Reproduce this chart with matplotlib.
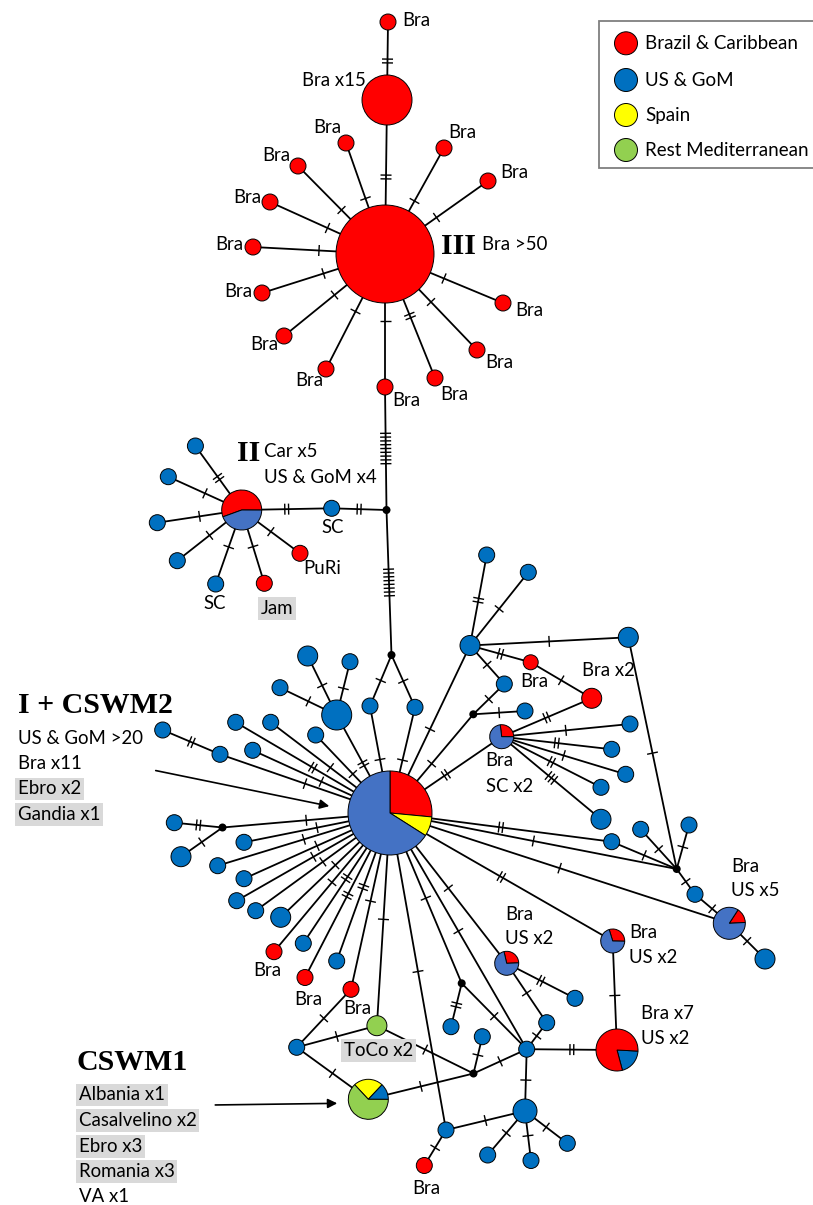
import matplotlib
matplotlib.use("Agg")
import matplotlib.pyplot as plt
from matplotlib.patches import Circle, Wedge, Rectangle
import numpy as np

COL = {"red": "#FF0000", "blue": "#0070C0", "pblue": "#4472C4",
       "yellow": "#FFFF00", "green": "#92D050", "black": "#000000"}

# ---------------- nodes: x, y (pixel space), radius, colour kind ----------------
node_x = [388, 387, 385, 346, 298, 270, 253, 262, 284, 326, 385, 435, 477, 503, 488, 444,
          386.5, 241.7, 331.7, 195.4, 168.3, 157.3, 177.3, 215.7, 264.3, 300,
          391.5, 370, 415, 390, 336.7, 307.7, 350, 280, 315.7, 235.7, 270.7, 252.7, 220, 162.7,
          222.5, 174.3, 181, 244, 217.7, 244, 236.7, 255.7, 280.7, 274, 303.3, 336.7, 305, 351,
          376.9, 296.7, 368.3, 473.5, 482.3, 461.7, 451, 506.7, 575, 546.7, 526.7, 525, 446,
          424.3, 487.7, 531, 567.3, 617, 612.7, 729.3, 765, 695, 676.7, 611.7, 640.7, 689,
          470, 486.7, 528.3, 628.3, 530.7, 591.7, 504.3, 473.3, 525, 501.7, 630, 611.7, 625.7,
          601, 601]
node_y = [22, 100, 254, 143, 166, 202, 247, 293, 336, 369, 387, 378, 350, 303, 181, 148,
          510, 510, 508.3, 446, 476.7, 522.7, 560.7, 584, 583.3, 553.3,
          655, 706, 707.3, 813, 715, 656, 661.7, 687.7, 735, 722.3, 722.3, 750.3, 754.3, 730,
          827.5, 822.7, 856.7, 842.3, 865.7, 878.7, 900.7, 910.7, 917.3, 951.7, 943.3, 961, 977.5, 989.3,
          1025.7, 1047.3, 1099.3, 1073.5, 1036.7, 983.3, 1026.7, 963.3, 998.3, 1022.7, 1049.2, 1111, 1130,
          1165.5, 1155, 1160.5, 1143.3, 1050, 941, 923.3, 959, 894.3, 869, 841.7, 829.3, 825,
          645.5, 555, 572.3, 637.3, 662.3, 698.3, 684, 714.3, 711, 736.7, 724, 749.3, 774.3,
          787.3, 819.3]
node_r = [8, 25, 49] + [8] * 13 + \
         [4, 20, 8, 8, 8, 8, 8, 8, 8, 8] + \
         [4, 8, 8, 42, 15, 10, 8, 8, 8, 8, 8, 8, 8, 8] + \
         [4, 8, 10, 8, 8, 8, 8, 8, 10, 8, 8, 8, 8, 8] + \
         [10, 8, 20, 4, 8, 4, 8, 12, 8, 8, 8, 12, 8, 8, 8, 8, 8, 21, 12, 16, 10, 8, 4, 8, 8, 8] + \
         [10, 8, 8, 10, 7.5, 10, 8, 4, 8, 12, 8, 8, 8, 8, 10]
node_kind = ["red"] * 16 + \
            ["black", "pie", "blue", "blue", "blue", "blue", "blue", "blue", "red", "red"] + \
            ["black", "blue", "blue", "pie", "blue", "blue", "blue", "blue", "blue", "blue", "blue", "blue", "blue", "blue"] + \
            ["black", "blue", "blue", "blue", "blue", "blue", "blue", "blue", "blue", "red", "blue", "blue", "red", "red"] + \
            ["green", "blue", "pie", "black", "blue", "black", "blue", "pie", "blue", "blue", "blue", "blue", "blue",
             "red", "blue", "blue", "blue", "pie", "pie", "pie", "blue", "blue", "black", "blue", "blue", "blue"] + \
            ["blue", "blue", "blue", "blue", "red", "red", "blue", "black", "blue", "pie", "blue", "blue", "blue", "blue", "blue"]

# pie nodes: start angle (deg, screen), clockwise shares
pie_start = {29: 90, 17: 200, 89: 97, 61: 103, 72: 107, 73: 57, 71: -3, 56: 133}
pie_shares = {
    29: [("red", 0.265), ("yellow", 0.075), ("pblue", 0.66)],
    17: [("red", 0.556), ("pblue", 0.444)],
    89: [("red", 0.27), ("pblue", 0.73)],
    61: [("red", 0.28), ("pblue", 0.72)],
    72: [("red", 0.30), ("pblue", 0.70)],
    73: [("red", 0.15), ("pblue", 0.85)],
    71: [("blue", 0.20), ("red", 0.80)],
    56: [("yellow", 0.24), ("blue", 0.13), ("green", 0.63)],
}

# ---------------- edges: (from, to, number of mutation ticks) ----------------
edges = [(0, 1, 2), (1, 2, 2),
         (2, 3, 1), (2, 4, 1), (2, 5, 1), (2, 6, 1), (2, 7, 1), (2, 8, 1), (2, 9, 1), (2, 10, 1),
         (2, 11, 2), (2, 12, 1), (2, 13, 1), (2, 14, 1), (2, 15, 1),
         (10, 16, 9), (16, 26, 8),
         (17, 18, 2), (18, 16, 2), (17, 19, 2), (17, 20, 1), (17, 21, 1), (17, 22, 1), (17, 23, 1),
         (17, 24, 1), (17, 25, 1),
         (26, 27, 1), (26, 28, 1), (27, 29, 1), (28, 29, 1),
         (29, 30, 2), (30, 31, 1), (30, 32, 1), (30, 33, 1),
         (29, 34, 1), (29, 35, 2), (29, 36, 1), (29, 37, 1), (29, 38, 1), (38, 39, 2),
         (29, 40, 1), (40, 41, 2), (40, 42, 1),
         (29, 43, 1), (29, 44, 1), (29, 45, 1), (29, 46, 1), (29, 47, 1), (29, 48, 1),
         (29, 49, 1), (29, 50, 2), (29, 51, 2), (29, 52, 2), (29, 53, 1), (29, 54, 1),
         (53, 55, 1), (55, 54, 1), (55, 56, 1), (54, 57, 1), (56, 57, 1), (57, 58, 1), (57, 64, 1),
         (29, 59, 1), (59, 60, 2), (59, 64, 1), (29, 66, 1), (29, 61, 1), (61, 62, 2), (61, 63, 1),
         (63, 64, 1), (64, 65, 1), (64, 71, 2), (65, 66, 1), (66, 67, 1), (65, 68, 1), (65, 69, 1),
         (65, 70, 1), (29, 64, 1),
         (29, 72, 2), (72, 71, 1), (29, 73, 1), (29, 76, 1), (29, 77, 2), (77, 76, 1), (76, 78, 1),
         (76, 79, 1), (76, 83, 1), (76, 75, 1), (75, 73, 1), (73, 74, 1),
         (29, 80, 1), (80, 81, 2), (80, 82, 1), (80, 83, 1), (80, 84, 2), (84, 85, 1), (80, 86, 1),
         (86, 87, 1), (87, 88, 1), (87, 29, 1), (29, 89, 2), (89, 85, 2), (89, 90, 1), (89, 91, 2),
         (89, 92, 1), (89, 93, 2), (89, 94, 3)]

# ---------------- labels ----------------
label_text = ["Bra", "Bra x15", "Bra", "Bra", "Bra", "Bra", "Bra", "Bra", "Bra", "Bra", "Bra", "Bra",
              "Bra", "Bra", "Bra", "Bra >50", "Car x5", "US & GoM x4", "SC", "PuRi", "SC", "Jam",
              "Bra", "Bra x2", "Bra", "SC x2", "US & GoM >20", "Bra x11", "Ebro x2", "Gandia x1",
              "Bra", "Bra", "Bra", "ToCo x2", "Bra", "US x2", "Bra", "US x2", "Bra", "US x5",
              "Bra x7", "US x2", "Albania x1", "Casalvelino x2", "Ebro x3", "Romania x3", "VA x1", "Bra"]
label_x = [401.8, 302, 313.6, 261.8, 233, 215, 224.5, 250.4, 295.5, 392.4, 440.6, 485.7,
           514.8, 500, 448.4, 482, 264.4, 264.4, 321.4, 303.3, 203.2, 260.5,
           520, 581.6, 485.7, 485.7, 18, 18, 18, 18,
           253, 294, 343.7, 344, 505.4, 505.4, 628.8, 628.8, 731, 731,
           640.7, 640.7, 78.8, 78.8, 78.8, 78.8, 78.8, 412]
label_y = [20.7, 80, 127.7, 155.7, 197.7, 245, 291.7, 345, 381, 400, 394.3, 362.7,
           310, 172.3, 132.3, 245, 451.7, 477.3, 527.7, 569, 603.3, 608.3,
           681.7, 670.7, 760.7, 786.7, 738.3, 763.3, 789, 814.3,
           970, 999.3, 1008.3, 1050.7, 914, 939, 932.7, 957.7, 866, 891,
           1013.3, 1038.3, 1095, 1120.7, 1146.7, 1171.7, 1196.7, 1188.3]
label_grey = ["Jam", "Ebro x2", "Gandia x1", "ToCo x2", "Albania x1", "Casalvelino x2",
              "Ebro x3", "Romania x3"]

group_text = ["III", "II", "I + CSWM2", "CSWM1"]
group_x = [440.6, 237, 18, 76.7]
group_y = [246, 453.3, 705.7, 1062.7]

legend_names = ["Brazil & Caribbean", "US & GoM", "Spain", "Rest Mediterranean"]
legend_cols = ["red", "blue", "yellow", "green"]

# ---------------- drawing ----------------
W, H = 813, 1205
fig = plt.figure(figsize=(W / 100, H / 100), dpi=100)
ax = fig.add_axes([0, 0, 1, 1])
ax.set_xlim(0, W)
ax.set_ylim(H, 0)
ax.axis("off")

LW = 1.3
for a, b, n in edges:
    x0, y0, x1, y1 = node_x[a], node_y[a], node_x[b], node_y[b]
    ax.plot([x0, x1], [y0, y1], color="black", lw=LW, zorder=1, solid_capstyle="butt")
    d = np.array([x1 - x0, y1 - y0], float)
    L = np.hypot(*d)
    u = d / L
    p = np.array([-u[1], u[0]])
    mx, my = (x0 + x1) / 2, (y0 + y1) / 2
    sp = 3.8
    for k in range(n):
        off = (k - (n - 1) / 2) * sp
        cx, cy = mx + u[0] * off, my + u[1] * off
        ax.plot([cx - p[0] * 5.5, cx + p[0] * 5.5], [cy - p[1] * 5.5, cy + p[1] * 5.5],
                color="black", lw=1.0, zorder=2, solid_capstyle="butt")

for i in range(len(node_x)):
    x, y, r, k = node_x[i], node_y[i], node_r[i], node_kind[i]
    if k == "pie":
        ang = pie_start[i]
        for c, f in pie_shares[i]:
            a2 = ang
            a1 = ang - f * 360
            # y axis is inverted: screen angle a -> data angle -a
            ax.add_patch(Wedge((x, y), r, -a2, -a1, facecolor=COL[c], edgecolor="black",
                               lw=0.7, zorder=3))
            ang = a1
    else:
        ax.add_patch(Circle((x, y), r, facecolor=COL[k], edgecolor="black",
                            lw=0.7 if k != "black" else 0, zorder=3))

FONT = "Lato"
for t, x, y in zip(label_text, label_x, label_y):
    kw = {}
    if t in label_grey:
        kw["bbox"] = dict(boxstyle="square,pad=0.15", fc="#D9D9D9", ec="none")
    ax.text(x, y, t, ha="left", va="center", fontsize=13.4, family=FONT, zorder=5, **kw)

for t, x, y in zip(group_text, group_x, group_y):
    ax.text(x, y, t, ha="left", va="center", fontsize=21.5, family="Liberation Serif",
            weight="bold", zorder=5)

# arrows
ax.annotate("", xy=(332, 806.7), xytext=(153, 770),
            arrowprops=dict(arrowstyle="-|>", color="black", lw=1.2, mutation_scale=14))
ax.annotate("", xy=(340, 1103.3), xytext=(212.5, 1105),
            arrowprops=dict(arrowstyle="-|>", color="black", lw=1.2, mutation_scale=14))

# legend
ax.add_patch(Rectangle((599.3, 20.7), 230, 147, facecolor="white", edgecolor="#7F7F7F",
                       lw=1.3, zorder=4, clip_on=False))
for i, (nm, c) in enumerate(zip(legend_names, legend_cols)):
    ly = [43.3, 80, 115, 150][i]
    ax.add_patch(Circle((626, ly), 11.5, facecolor=COL[c], edgecolor="black", lw=0.7, zorder=5))
    ax.text(645, ly, nm, ha="left", va="center", fontsize=13.5, family=FONT, zorder=6)

fig.savefig("out.png", dpi=100)
